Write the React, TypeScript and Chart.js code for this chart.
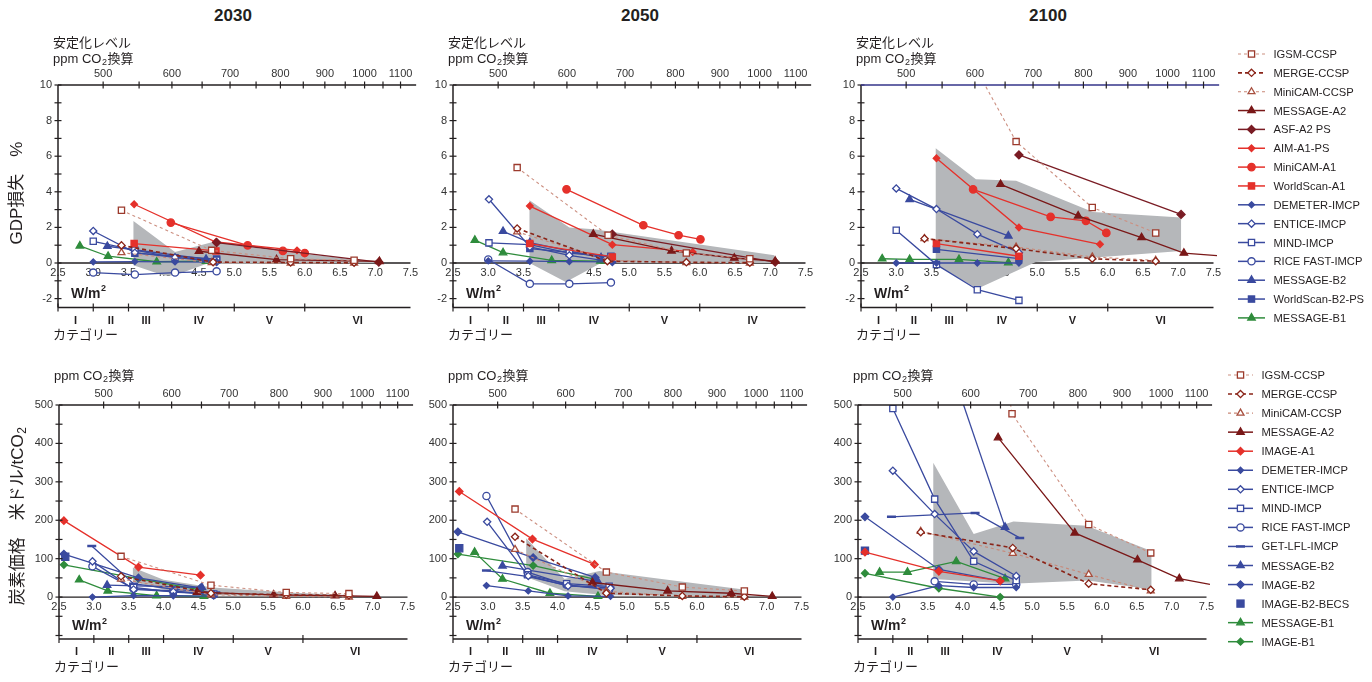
import React, { useEffect, useRef } from 'react';
import { Chart, registerables } from 'chart.js';
Chart.register(...registerables);

const SANS = '"Liberation Sans", Arial, "Noto Sans CJK JP", sans-serif';
const INK = '#231f20';

type Pt = number[]; // [W/m2, value, hiddenMarker?]
type Series = [string, Pt[]];

// ---------- axis / tick data ----------
const YEARS = ['2030', '2050', '2100'];
const YEAR_X = [233, 640, 1048];
const W_TICKS = [2.5, 3.0, 3.5, 4.0, 4.5, 5.0, 5.5, 6.0, 6.5, 7.0, 7.5];
const PPM_TICKS = [500, 550, 600, 650, 700, 750, 800, 850, 900, 950, 1000, 1050, 1100];
const PPM_LABELS = [500, 600, 700, 800, 900, 1000, 1100];
const CAT_BOUNDS = [3.0, 3.5, 4.0, 5.0, 6.0];
const CAT_CENTERS = [2.75, 3.25, 3.75, 4.5, 5.5, 6.75];
const CAT_LABELS = ['I', 'II', 'III', 'IV', 'V', 'VI'];
const CAT_LABELS_2050_GDP = ['I', 'II', 'III', 'IV', 'V', 'IV'];
const GDP_TICKS = [10, 8, 6, 4, 2, 0, -2];
const PRICE_TICKS = [500, 400, 300, 200, 100, 0];
const X_MIN = 2.5;
const X_MAX = 7.55;

// ---------- GDP loss (%) ----------
const GDP_2030: Series[] = [
  ['IGSM-CCSP', [[3.4, 2.96], [4.68, 0.71], [5.8, 0.24], [6.7, 0.15]]],
  ['MERGE-CCSP', [[3.4, 0.99], [4.7, 0.05], [5.8, 0.03], [6.7, 0.02]]],
  ['MiniCAM-CCSP', [[3.4, 0.58], [4.68, 0.02], [5.8, 0.0], [6.7, 0.0]]],
  ['MESSAGE-A2', [[4.5, 0.66], [5.6, 0.19], [7.06, 0.09]]],
  ['ASF-A2 PS', [[4.75, 1.15], [7.05, 0.05]]],
  ['AIM-A1-PS', [[3.58, 3.3], [4.74, 1.18], [5.89, 0.71]]],
  ['MiniCAM-A1', [[4.1, 2.27], [5.19, 0.99], [5.69, 0.68], [6.0, 0.56]]],
  ['WorldScan-A1', [[3.58, 1.09], [4.74, 0.68]]],
  ['DEMETER-IMCP', [[3.0, 0.06], [3.59, 0.08], [4.16, 0.06], [4.75, 0.05]]],
  ['ENTICE-IMCP', [[3.0, 1.8], [3.59, 0.58], [4.16, 0.32], [4.75, 0.06]]],
  ['MIND-IMCP', [[3.0, 1.22], [3.59, 0.72], [4.16, 0.3], [4.75, 0.15]]],
  ['RICE FAST-IMCP', [[3.0, -0.54], [3.59, -0.65], [4.16, -0.54], [4.75, -0.47]]],
  ['MESSAGE-B2', [[3.2, 0.94], [4.6, 0.22]]],
  ['WorldScan-B2-PS', [[3.59, 0.55], [4.75, 0.22]]],
  ['MESSAGE-B1', [[2.81, 0.96], [3.21, 0.38], [3.9, 0.07], [4.6, 0.1]]],
];
const GDP_2050: Series[] = [
  ['IGSM-CCSP', [[3.41, 5.36], [4.7, 1.56], [5.81, 0.56], [6.71, 0.24]]],
  ['MERGE-CCSP', [[3.41, 1.94], [4.69, 0.1], [5.81, 0.04], [6.71, 0.02]]],
  ['MiniCAM-CCSP', [[3.41, 1.75], [4.7, 0.15], [5.81, 0.02], [6.71, 0.0]]],
  ['MESSAGE-A2', [[4.49, 1.62], [5.6, 0.68], [6.49, 0.28], [7.07, 0.1]]],
  ['ASF-A2 PS', [[4.76, 1.62], [7.07, 0.05]]],
  ['AIM-A1-PS', [[3.59, 3.2], [4.76, 1.03], [5.9, 0.62]]],
  ['MiniCAM-A1', [[4.11, 4.14], [5.2, 2.12], [5.7, 1.56], [6.01, 1.33]]],
  ['WorldScan-A1', [[3.59, 1.09], [4.76, 0.34]]],
  ['DEMETER-IMCP', [[3.0, 0.12], [3.59, 0.1], [4.15, 0.08], [4.76, 0.06]]],
  ['ENTICE-IMCP', [[3.01, 3.58], [3.59, 0.9], [4.15, 0.43], [4.76, 0.06]]],
  ['MIND-IMCP', [[3.01, 1.13], [3.59, 1.03], [4.15, 0.56], [4.74, 0.34]]],
  ['RICE FAST-IMCP', [[3.0, 0.2], [3.59, -1.17], [4.15, -1.17], [4.74, -1.1]]],
  ['MESSAGE-B2', [[3.21, 1.78], [3.59, 1.15], [4.6, 0.3]]],
  ['WorldScan-B2-PS', [[3.59, 0.81], [4.74, 0.38]]],
  ['MESSAGE-B1', [[2.81, 1.28], [3.21, 0.58], [3.9, 0.15], [4.59, 0.11]]],
];
const GDP_2100: Series[] = [
  ['IGSM-CCSP', [[3.41, 16.1, 1], [4.7, 6.82], [5.78, 3.12], [6.68, 1.69]]],
  ['MERGE-CCSP', [[3.4, 1.37], [4.7, 0.81], [5.78, 0.24], [6.68, 0.1]]],
  ['MiniCAM-CCSP', [[3.4, 1.37], [4.7, 0.9], [5.78, 0.34], [6.68, 0.15]]],
  ['MESSAGE-A2', [[4.48, 4.42], [5.58, 2.65], [6.48, 1.43], [7.08, 0.56], [7.55, 0.42, 1]]],
  ['ASF-A2 PS', [[4.74, 6.07], [7.04, 2.73]]],
  ['AIM-A1-PS', [[3.57, 5.88], [4.74, 1.99], [5.89, 1.05]]],
  ['MiniCAM-A1', [[4.09, 4.14], [5.19, 2.59], [5.69, 2.37], [5.98, 1.69]]],
  ['WorldScan-A1', [[3.57, 1.09], [4.74, 0.38]]],
  ['DEMETER-IMCP', [[3.0, 0.0], [3.57, 0.0], [4.15, 0.0], [4.74, 0.0]]],
  ['ENTICE-IMCP', [[3.0, 4.19], [3.57, 3.03], [4.15, 1.62], [4.74, 0.58]]],
  ['MIND-IMCP', [[3.0, 1.84], [3.57, -0.09], [4.15, -1.5], [4.74, -2.1]]],
  ['MESSAGE-B2', [[3.19, 3.57], [4.59, 1.52]]],
  ['WorldScan-B2-PS', [[3.57, 0.77], [4.74, 0.24]]],
  ['MESSAGE-B1', [[2.8, 0.24], [3.19, 0.2], [3.89, 0.2], [4.59, 0.02]]],
];

// ---------- carbon price (US$/tCO2) ----------
const PRICE_2030: Series[] = [
  ['IGSM-CCSP', [[3.39, 106], [4.68, 31], [5.76, 12], [6.66, 9]]],
  ['MERGE-CCSP', [[3.39, 54], [4.68, 10], [5.76, 6], [6.66, 4]]],
  ['MiniCAM-CCSP', [[3.39, 47], [4.68, 6], [5.76, 2], [6.66, 0]]],
  ['MESSAGE-A2', [[4.48, 13], [5.58, 6], [6.46, 3.5], [7.06, 2]]],
  ['IMAGE-A1', [[2.57, 199], [3.64, 78], [4.53, 57]]],
  ['DEMETER-IMCP', [[2.98, 0], [3.57, 4], [4.14, 3.5], [4.72, 2.6]]],
  ['ENTICE-IMCP', [[2.98, 93], [3.57, 20], [4.14, 14], [4.72, 7]]],
  ['MIND-IMCP', [[3.57, 25], [4.14, 13], [4.72, 8]]],
  ['RICE FAST-IMCP', [[2.98, 80], [3.57, 22], [4.14, 16], [4.72, 6]]],
  ['GET-LFL-IMCP', [[2.97, 133], [3.57, 35], [4.15, 20], [4.75, 12]]],
  ['MESSAGE-B2', [[3.19, 31], [4.55, 25]]],
  ['IMAGE-B2', [[2.57, 112], [3.64, 50], [4.53, 24]]],
  ['IMAGE-B2-BECS', [[2.59, 105]]],
  ['MESSAGE-B1', [[2.79, 45], [3.2, 16], [3.9, 3.5], [4.58, 2]]],
  ['IMAGE-B1', [[2.57, 84], [3.64, 48], [4.53, 19]]],
];
const PRICE_2050: Series[] = [
  ['IGSM-CCSP', [[3.39, 229], [4.7, 65], [5.79, 26], [6.68, 16]]],
  ['MERGE-CCSP', [[3.39, 157], [4.7, 10], [5.79, 3], [6.68, 1]]],
  ['MiniCAM-CCSP', [[3.39, 124], [4.7, 15], [5.79, 2], [6.68, 0]]],
  ['MESSAGE-A2', [[4.5, 38], [5.58, 16], [6.49, 10], [7.08, 2]]],
  ['IMAGE-A1', [[2.59, 275], [3.64, 151], [4.53, 85]]],
  ['DEMETER-IMCP', [[2.98, 30], [3.58, 16], [4.15, 3], [4.76, 2]]],
  ['ENTICE-IMCP', [[2.99, 196], [3.58, 55], [4.15, 29], [4.76, 23]]],
  ['MIND-IMCP', [[3.57, 58], [4.13, 35], [4.74, 28]]],
  ['RICE FAST-IMCP', [[2.98, 263], [3.57, 65], [4.13, 32], [4.74, 19]]],
  ['GET-LFL-IMCP', [[2.98, 69], [3.58, 53], [4.15, 30], [4.75, 25]]],
  ['MESSAGE-B2', [[3.21, 81], [4.58, 40]]],
  ['IMAGE-B2', [[2.57, 170], [3.65, 103], [4.54, 51]]],
  ['IMAGE-B2-BECS', [[2.59, 127]]],
  ['MESSAGE-B1', [[2.81, 117], [3.21, 47], [3.89, 10], [4.58, 2]]],
  ['IMAGE-B1', [[2.57, 112], [3.65, 82], [4.53, 47]]],
];
const PRICE_2100: Series[] = [
  ['IGSM-CCSP', [[3.4, 2000, 1], [4.71, 477], [5.81, 189], [6.7, 115]]],
  ['MERGE-CCSP', [[3.4, 169], [4.72, 128], [5.81, 35], [6.7, 19]]],
  ['MiniCAM-CCSP', [[3.4, 171], [4.72, 114], [5.81, 59], [6.7, 16]]],
  ['MESSAGE-A2', [[4.51, 415], [5.61, 167], [6.51, 97], [7.11, 48], [7.55, 33, 1]]],
  ['IMAGE-A1', [[2.6, 117], [3.66, 67], [4.54, 42]]],
  ['DEMETER-IMCP', [[3.0, 0], [3.66, 30], [4.16, 25], [4.77, 25]]],
  ['ENTICE-IMCP', [[3.0, 329], [3.6, 216], [4.16, 119], [4.77, 55]]],
  ['MIND-IMCP', [[3.0, 491], [3.6, 255], [4.16, 93], [4.77, 43]]],
  ['RICE FAST-IMCP', [[3.6, 41], [4.16, 33], [4.77, 33]]],
  ['GET-LFL-IMCP', [[2.98, 209], [4.18, 219], [4.82, 154]]],
  ['MESSAGE-B2', [[3.21, 930, 1], [4.61, 182]]],
  ['IMAGE-B2', [[2.6, 209], [3.66, 72], [4.54, 42]]],
  ['IMAGE-B2-BECS', [[2.6, 121]]],
  ['MESSAGE-B1', [[2.81, 65], [3.21, 65], [3.91, 93], [4.61, 48]]],
  ['IMAGE-B1', [[2.6, 62], [3.66, 23], [4.54, 0]]],
];

// ---------- grey ranges (closed outlines) ----------
const SHADE_GDP_2030: Pt[] = [[3.57, 2.36], [4.16, 0.62], [4.75, 1.24], [5.2, 0.9], [6.0, 0.5], [7.05, 0.05], [7.05, 0], [4.6, -0.05], [4.15, -0.7], [4.0, -0.7], [3.57, -0.13]];
const SHADE_GDP_2050: Pt[] = [[3.585, 3.53], [4.15, 2.0], [4.5, 1.9], [7.06, 0.43], [7.06, 0], [4.6, 0], [4.1, -1.07], [3.585, 0]];
const SHADE_GDP_2100: Pt[] = [[3.56, 6.44], [4.13, 4.71], [4.7, 4.62], [5.79, 2.87], [7.04, 2.55], [7.04, 0.68], [4.98, 0.06], [4.15, -1.45], [3.56, -0.1]];
const SHADE_PRICE_2030: Pt[] = [[3.56, 77], [4.0, 45], [4.7, 25], [5.8, 12], [6.7, 5], [6.7, 0], [4.7, 5], [4.0, 20], [3.56, 40]];
const SHADE_PRICE_2050: Pt[] = [[3.55, 153], [4.1, 47], [4.6, 68], [5.8, 40], [6.7, 19], [6.7, 2], [4.7, 5], [4.1, 15], [3.55, 52]];
const SHADE_PRICE_2100: Pt[] = [[3.58, 350], [4.16, 164], [4.73, 197], [5.78, 186], [6.71, 120], [6.71, 20], [5.8, 43], [4.7, 35], [3.58, 47]];

const TOP_LEGEND = ['IGSM-CCSP', 'MERGE-CCSP', 'MiniCAM-CCSP', 'MESSAGE-A2', 'ASF-A2 PS', 'AIM-A1-PS', 'MiniCAM-A1', 'WorldScan-A1', 'DEMETER-IMCP', 'ENTICE-IMCP', 'MIND-IMCP', 'RICE FAST-IMCP', 'MESSAGE-B2', 'WorldScan-B2-PS', 'MESSAGE-B1'];
const BOTTOM_LEGEND = ['IGSM-CCSP', 'MERGE-CCSP', 'MiniCAM-CCSP', 'MESSAGE-A2', 'IMAGE-A1', 'DEMETER-IMCP', 'ENTICE-IMCP', 'MIND-IMCP', 'RICE FAST-IMCP', 'GET-LFL-IMCP', 'MESSAGE-B2', 'IMAGE-B2', 'IMAGE-B2-BECS', 'MESSAGE-B1', 'IMAGE-B1'];

// ---------- styles ----------
type Sty = { c: string; lc?: string; dash?: number[]; p: string; open?: boolean; r: number; w?: number; noLine?: boolean };
const BROWN = '#9c3a2c';
const DARK = '#7a1818';
const RED = '#e5312b';
const BLUE = '#3a4a9f';
const GREEN = '#2f8c3c';
const STYLES: Record<string, Sty> = {
  'IGSM-CCSP': { c: BROWN, lc: '#cc8f80', dash: [3, 3], p: 'rect', open: true, r: 4.4, w: 1.1 },
  'MERGE-CCSP': { c: '#8a2418', dash: [4, 3], p: 'rectRot', open: true, r: 3.6, w: 1.6 },
  'MiniCAM-CCSP': { c: '#a8503f', lc: '#c98877', dash: [3, 3], p: 'triangle', open: true, r: 4, w: 1.1 },
  'MESSAGE-A2': { c: DARK, p: 'triangle', r: 4.3 },
  'ASF-A2 PS': { c: '#7a1c24', p: 'rectRot', r: 4 },
  'AIM-A1-PS': { c: RED, p: 'rectRot', r: 3.3 },
  'MiniCAM-A1': { c: RED, p: 'circle', r: 3.7 },
  'WorldScan-A1': { c: RED, p: 'rect', r: 4.4 },
  'IMAGE-A1': { c: RED, p: 'rectRot', r: 3.7 },
  'DEMETER-IMCP': { c: BLUE, p: 'rectRot', r: 3 },
  'ENTICE-IMCP': { c: BLUE, p: 'rectRot', open: true, r: 3.6 },
  'MIND-IMCP': { c: BLUE, p: 'rect', open: true, r: 4.4 },
  'RICE FAST-IMCP': { c: BLUE, p: 'circle', open: true, r: 3.6 },
  'GET-LFL-IMCP': { c: BLUE, p: 'line', r: 4.5 },
  'MESSAGE-B2': { c: BLUE, p: 'triangle', r: 4.3 },
  'WorldScan-B2-PS': { c: BLUE, p: 'rect', r: 4.4 },
  'IMAGE-B2': { c: BLUE, p: 'rectRot', r: 3.7 },
  'IMAGE-B2-BECS': { c: BLUE, p: 'rect', r: 5, noLine: true },
  'MESSAGE-B1': { c: GREEN, p: 'triangle', r: 4.3 },
  'IMAGE-B1': { c: GREEN, p: 'rectRot', r: 3.5 },
};

// ---------- layout ----------
const ROWS = [
  { top: 0, height: 341, caTop: 85, caBottom: 307.5, xPer: 70.5, catOff: 0, stab: true, ppmDy: -26, wDy: -13.5, yStep: 1, yStart: -2 },
  { top: 341, height: 341, caTop: 405, caBottom: 635.5, xPer: 69.7, catOff: 3.5, stab: false, ppmDy: -29, wDy: -9, yStep: 50, yStart: -100 },
];
const CANVAS_W = 424;

interface PanelCfg {
  id: string; row: number; axisLeft: number; series: Series[]; shade: Pt[];
  yMin: number; yMax: number; yTicks: number[]; cats: string[];
  topColor?: string; yTitle?: 'gdp' | 'price';
}

const PANELS: PanelCfg[] = [
  { id: 'g30', row: 0, axisLeft: 58, series: GDP_2030, shade: SHADE_GDP_2030, yMin: -2.5, yMax: 10, yTicks: GDP_TICKS, cats: CAT_LABELS, yTitle: 'gdp' },
  { id: 'g50', row: 0, axisLeft: 453, series: GDP_2050, shade: SHADE_GDP_2050, yMin: -2.5, yMax: 10, yTicks: GDP_TICKS, cats: CAT_LABELS_2050_GDP },
  { id: 'g00', row: 0, axisLeft: 861, series: GDP_2100, shade: SHADE_GDP_2100, yMin: -2.5, yMax: 10, yTicks: GDP_TICKS, cats: CAT_LABELS, topColor: '#34348a' },
  { id: 'p30', row: 1, axisLeft: 59, series: PRICE_2030, shade: SHADE_PRICE_2030, yMin: -100, yMax: 500, yTicks: PRICE_TICKS, cats: CAT_LABELS, yTitle: 'price' },
  { id: 'p50', row: 1, axisLeft: 453, series: PRICE_2050, shade: SHADE_PRICE_2050, yMin: -100, yMax: 500, yTicks: PRICE_TICKS, cats: CAT_LABELS },
  { id: 'p00', row: 1, axisLeft: 858, series: PRICE_2100, shade: SHADE_PRICE_2100, yMin: -100, yMax: 500, yTicks: PRICE_TICKS, cats: CAT_LABELS },
];

const forcing = (ppm: number) => 5.35 * Math.log(ppm / 278);

function seg(ctx: CanvasRenderingContext2D, x1: number, y1: number, x2: number, y2: number) {
  ctx.beginPath(); ctx.moveTo(x1, y1); ctx.lineTo(x2, y2); ctx.stroke();
}

// draws "pre" + subscript "2" + "post" starting at x (left aligned, middle baseline)
function subText(ctx: CanvasRenderingContext2D, x: number, y: number, pre: string, post: string, size: number, bold = false) {
  const b = bold ? 'bold ' : '';
  ctx.font = `${b}${size}px ${SANS}`;
  ctx.textAlign = 'left'; ctx.textBaseline = 'middle';
  ctx.fillText(pre, x, y);
  let cx = x + ctx.measureText(pre).width;
  ctx.font = `${b}${Math.round(size * 0.68)}px ${SANS}`;
  ctx.fillText('2', cx + 0.5, y + size * 0.28);
  cx += ctx.measureText('2').width + 1;
  ctx.font = `${b}${size}px ${SANS}`;
  ctx.fillText(post, cx, y);
}
function subWidth(ctx: CanvasRenderingContext2D, pre: string, post: string, size: number) {
  ctx.font = `${size}px ${SANS}`;
  const a = ctx.measureText(pre).width + ctx.measureText(post).width;
  ctx.font = `${Math.round(size * 0.68)}px ${SANS}`;
  return a + ctx.measureText('2').width + 1;
}

function axesPlugin(cfg: PanelCfg) {
  const row = ROWS[cfg.row];
  return {
    id: 'axes_' + cfg.id,
    beforeDatasetsDraw(chart: any) {
      const { ctx, chartArea: ca } = chart;
      const x = chart.scales.x, y = chart.scales.y;
      ctx.save();
      const y0 = y.getPixelForValue(0);
      ctx.strokeStyle = INK; ctx.lineWidth = 1.3;
      seg(ctx, ca.left, y0, x.getPixelForValue(7.5), y0);
      ctx.fillStyle = '#333'; ctx.font = `11px ${SANS}`; ctx.textAlign = 'center'; ctx.textBaseline = 'middle';
      W_TICKS.forEach((v) => ctx.fillText(v.toFixed(1), x.getPixelForValue(v), y0 + 10));
      ctx.restore();
    },
    afterDatasetsDraw(chart: any) {
      const { ctx, chartArea: ca } = chart;
      const x = chart.scales.x, y = chart.scales.y;
      ctx.save();
      ctx.strokeStyle = INK; ctx.fillStyle = INK; ctx.lineWidth = 1.5;
      // left axis
      seg(ctx, ca.left, ca.top, ca.left, ca.bottom);
      ctx.lineWidth = 1.2;
      for (let v = row.yStart; v <= cfg.yMax + 1e-9; v += row.yStep) {
        const py = y.getPixelForValue(v);
        seg(ctx, ca.left - 3.5, py, ca.left + 3.5, py);
      }
      ctx.fillStyle = '#333'; ctx.font = `11px ${SANS}`; ctx.textAlign = 'right'; ctx.textBaseline = 'middle';
      cfg.yTicks.forEach((v) => ctx.fillText(String(v), ca.left - 6, y.getPixelForValue(v)));
      // top ppm axis
      ctx.strokeStyle = cfg.topColor || INK; ctx.lineWidth = 1.5;
      seg(ctx, ca.left, ca.top, x.getPixelForValue(7.58), ca.top);
      ctx.strokeStyle = INK; ctx.lineWidth = 1.2;
      PPM_TICKS.forEach((p) => {
        const px = x.getPixelForValue(forcing(p));
        seg(ctx, px, ca.top - 3.5, px, ca.top + 3.5);
      });
      ctx.textAlign = 'center';
      PPM_LABELS.forEach((p) => ctx.fillText(String(p), x.getPixelForValue(forcing(p)), ca.top - 11));
      ctx.fillStyle = INK;
      if (row.stab) {
        ctx.font = `13px ${SANS}`; ctx.textAlign = 'left';
        ctx.fillText('安定化レベル', ca.left - 5, ca.top - 42);
      }
      subText(ctx, ca.left - 5, ca.top + row.ppmDy, 'ppm CO', '換算', 13);
      // category axis
      const yc = ca.bottom + row.catOff;
      ctx.strokeStyle = INK; ctx.lineWidth = 1.5;
      seg(ctx, ca.left, yc, x.getPixelForValue(7.5), yc);
      ctx.lineWidth = 1.2;
      seg(ctx, ca.left, yc - 4, ca.left, yc + 4);
      CAT_BOUNDS.forEach((b) => { const px = x.getPixelForValue(b); seg(ctx, px, yc - 4, px, yc + 4); });
      ctx.font = `bold 11px ${SANS}`; ctx.textAlign = 'center'; ctx.textBaseline = 'middle';
      cfg.cats.forEach((l, i) => ctx.fillText(l, x.getPixelForValue(CAT_CENTERS[i]), yc + 13));
      ctx.font = `13px ${SANS}`; ctx.textAlign = 'left';
      ctx.fillText('カテゴリー', ca.left - 5, yc + 28);
      // W/m2 label
      const wy = ca.bottom + row.wDy;
      ctx.font = `bold 14px ${SANS}`; ctx.textAlign = 'left';
      ctx.fillText('W/m', ca.left + 13, wy);
      const ww = ctx.measureText('W/m').width;
      ctx.font = `bold 9px ${SANS}`;
      ctx.fillText('2', ca.left + 13 + ww + 0.5, wy - 5);
      // y-axis title
      if (cfg.yTitle) {
        ctx.save();
        const cy = cfg.yTitle === 'gdp' ? 193 : 516 - 341;
        ctx.translate(17, cy);
        ctx.rotate(-Math.PI / 2);
        ctx.fillStyle = INK;
        if (cfg.yTitle === 'gdp') {
          ctx.font = `17px ${SANS}`; ctx.textAlign = 'center'; ctx.textBaseline = 'middle';
          ctx.fillText('GDP損失　%', 0, 0);
        } else {
          const pre = '炭素価格　米ドル/tCO';
          const w = subWidth(ctx, pre, '', 17);
          subText(ctx, -w / 2, 0, pre, '', 17);
        }
        ctx.restore();
      }
      ctx.restore();
    },
  };
}

function Panel({ cfg }: { cfg: PanelCfg }) {
  const ref = useRef<HTMLCanvasElement>(null);
  const row = ROWS[cfg.row];
  useEffect(() => {
    const padTop = row.caTop - row.top;
    const padBottom = row.top + row.height - row.caBottom;
    const plotW = (X_MAX - X_MIN) * row.xPer;
    const padRight = CANVAS_W - 58 - plotW;
    const datasets: any[] = cfg.series.map(([name, pts]) => {
      const s = STYLES[name];
      return {
        label: name,
        data: pts.map((p) => ({ x: p[0], y: p[1], h: p[2] ? 1 : 0 })),
        borderColor: s.lc || s.c,
        borderWidth: s.w || 1.3,
        borderDash: s.dash || [],
        showLine: !s.noLine,
        pointStyle: s.p,
        pointRadius: (c: any) => (c.raw && c.raw.h ? 0 : s.r),
        pointBackgroundColor: s.open ? '#ffffff' : s.c,
        pointBorderColor: s.c,
        pointBorderWidth: s.p === 'line' ? 2.5 : 1.3,
        tension: 0,
        fill: false,
        order: 0,
      };
    });
    datasets.push({
      label: 'range',
      data: cfg.shade.map((p) => ({ x: p[0], y: p[1] })),
      borderColor: 'rgba(0,0,0,0)',
      borderWidth: 0,
      backgroundColor: '#b5b7ba',
      pointRadius: 0,
      fill: 'shape',
      tension: 0,
      order: 10,
    });
    const chart = new Chart(ref.current as HTMLCanvasElement, {
      type: 'line',
      data: { datasets },
      options: {
        responsive: false,
        maintainAspectRatio: false,
        animation: false,
        events: [],
        layout: { padding: { left: 58, right: padRight, top: padTop, bottom: padBottom } },
        plugins: { legend: { display: false }, tooltip: { enabled: false } },
        scales: {
          x: { type: 'linear', min: X_MIN, max: X_MAX, display: false },
          y: { type: 'linear', min: cfg.yMin, max: cfg.yMax, display: false },
        },
      } as any,
      plugins: [axesPlugin(cfg) as any],
    });
    return () => chart.destroy();
  }, []);
  return (
    <canvas
      ref={ref}
      width={CANVAS_W}
      height={row.height}
      style={{ position: 'absolute', left: cfg.axisLeft - 58, top: row.top, width: CANVAS_W, height: row.height }}
    />
  );
}

function MarkerSvg({ s, cx, cy }: { s: Sty; cx: number; cy: number }) {
  const fill = s.open ? '#fff' : s.c;
  const r = s.r;
  const sw = 1.3;
  if (s.p === 'rect') {
    const h = r * Math.SQRT1_2;
    return <rect x={cx - h} y={cy - h} width={2 * h} height={2 * h} fill={fill} stroke={s.c} strokeWidth={sw} />;
  }
  if (s.p === 'rectRot') {
    return <polygon points={`${cx},${cy - r} ${cx + r},${cy} ${cx},${cy + r} ${cx - r},${cy}`} fill={fill} stroke={s.c} strokeWidth={sw} />;
  }
  if (s.p === 'triangle') {
    return <polygon points={`${cx},${cy - r} ${cx + 0.866 * r},${cy + 0.5 * r} ${cx - 0.866 * r},${cy + 0.5 * r}`} fill={fill} stroke={s.c} strokeWidth={sw} />;
  }
  if (s.p === 'circle') return <circle cx={cx} cy={cy} r={r} fill={fill} stroke={s.c} strokeWidth={sw} />;
  return <line x1={cx - r} y1={cy} x2={cx + r} y2={cy} stroke={s.c} strokeWidth={2.5} />;
}

function Legend({ names, y0, dy, x0, x1, tx }: { names: string[]; y0: number; dy: number; x0: number; x1: number; tx: number }) {
  return (
    <>
      {names.map((n, i) => {
        const s = STYLES[n];
        const cy = y0 + i * dy;
        return (
          <g key={n + i}>
            {!s.noLine && (
              <line x1={x0} y1={cy} x2={x1} y2={cy} stroke={s.lc || s.c} strokeWidth={s.w || 1.5}
                strokeDasharray={s.dash ? s.dash.join(' ') : undefined} />
            )}
            <MarkerSvg s={s} cx={(x0 + x1) / 2} cy={cy} />
            <text x={tx} y={cy} dominantBaseline="central" fontSize={11.2} fill={INK} fontFamily={SANS}>{n}</text>
          </g>
        );
      })}
    </>
  );
}

export default function App() {
  return (
    <div style={{ position: 'absolute', left: 0, top: 0, width: 1372, height: 682, background: '#fff', overflow: 'hidden' }}>
      {YEARS.map((yr, i) => (
        <div key={yr} style={{ position: 'absolute', left: YEAR_X[i] - 50, top: 6, width: 100, textAlign: 'center', font: `bold 17px ${SANS}`, lineHeight: '20px', color: INK }}>{yr}</div>
      ))}
      {PANELS.map((p) => <Panel key={p.id} cfg={p} />)}
      <svg style={{ position: 'absolute', left: 0, top: 0 }} width={1372} height={682} pointerEvents="none">
        <Legend names={TOP_LEGEND} y0={54} dy={18.85} x0={1238} x1={1265} tx={1273.5} />
        <Legend names={BOTTOM_LEGEND} y0={375} dy={19.05} x0={1228} x1={1253} tx={1261.5} />
      </svg>
    </div>
  );
}
